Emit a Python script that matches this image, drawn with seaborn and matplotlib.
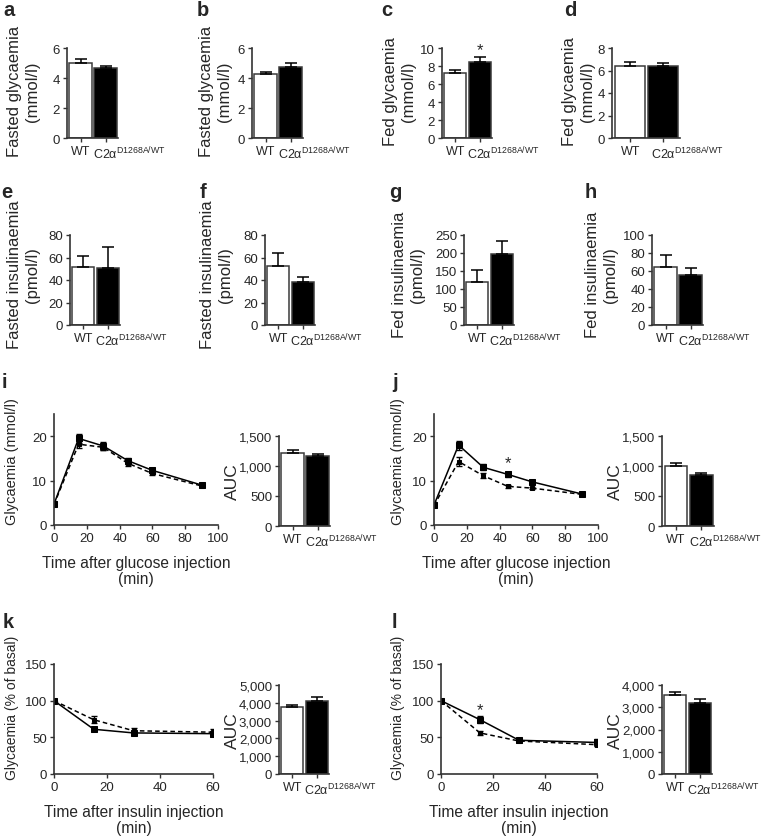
import numpy as np
import pandas as pd
import matplotlib
matplotlib.use("Agg")
import matplotlib.pyplot as plt
import matplotlib.transforms as mtransforms
from matplotlib.ticker import FuncFormatter
import seaborn as sns

sns.set_theme(style="ticks")
plt.rcParams["font.family"] = ["Liberation Sans", "DejaVu Sans"]
plt.rcParams["mathtext.fontset"] = "custom"
plt.rcParams["mathtext.rm"] = "Liberation Sans"
plt.rcParams["mathtext.it"] = "Liberation Sans:italic"
plt.rcParams["mathtext.bf"] = "Liberation Sans:bold"

# ---------------- data ----------------
genotypes = ["WT", "C2α$^{\\mathregular{D1268A/WT}}$"]

a_mean = [5.0, 4.65]; a_err = [0.25, 0.13]
b_mean = [4.3, 4.75]; b_err = [0.12, 0.22]
c_mean = [7.2, 8.5]; c_err = [0.35, 0.45]
d_mean = [6.4, 6.4]; d_err = [0.32, 0.25]
e_mean = [52, 50.5]; e_err = [9, 19]
f_mean = [52.5, 38]; f_err = [11.5, 5]
g_mean = [120, 197]; g_err = [33, 35]
h_mean = [65, 55.5]; h_err = [13, 8]

gtt_time = [0, 15, 30, 45, 60, 90]
i_wt = [4.7, 19.5, 17.8, 14.5, 12.3, 9.0]; i_wt_err = [0.4, 1.0, 0.8, 0.7, 0.5, 0.3]
i_mut = [4.6, 18.2, 17.5, 13.9, 11.6, 8.8]; i_mut_err = [0.3, 0.8, 0.6, 0.5, 0.4, 0.3]
i_auc = [1225, 1175]; i_auc_err = [45, 30]

j_wt = [4.5, 18.0, 13.0, 11.4, 9.7, 7.0]; j_wt_err = [0.4, 1.0, 0.7, 0.5, 0.3, 0.2]
j_mut = [4.4, 14.3, 11.1, 8.7, 8.3, 6.9]; j_mut_err = [0.4, 1.0, 0.6, 0.3, 0.3, 0.2]
j_auc = [1000, 850]; j_auc_err = [50, 35]

itt_time = [0, 15, 30, 60]
k_wt = [100, 61, 56, 55]; k_wt_err = [0, 2, 2, 2]
k_mut = [100, 74, 59, 57]; k_mut_err = [0, 5, 4, 5]
k_auc = [3780, 4080]; k_auc_err = [80, 240]

l_wt = [100, 74, 46, 43]; l_wt_err = [0, 5, 2, 5]
l_mut = [100, 56, 45, 40]; l_mut_err = [0, 3, 2, 2]
l_auc = [3550, 3200]; l_auc_err = [150, 180]

# ---------------- figure ----------------
W, H = 767, 837
fig = plt.figure(figsize=(W / 100, H / 100), dpi=100)

AX_COL = "#333333"
TICK_FS = 9.5
XT_FS = 9
BAR_LAB_FS = 12


def px_axes(x0, x1, y0, y1):
    return fig.add_axes([x0 / W, 1 - y1 / H, (x1 - x0) / W, (y1 - y0) / H])


def style(ax):
    sns.despine(ax=ax)
    for s in ("left", "bottom"):
        ax.spines[s].set_color(AX_COL)
        ax.spines[s].set_linewidth(1.2)
    ax.tick_params(axis="both", direction="out", length=3, width=1,
                   color=AX_COL, labelsize=TICK_FS, pad=2)


def ylabel_at(ax, text, right_px, yfrac, fs):
    ax.set_ylabel(text, fontsize=fs, linespacing=1.25)
    bb = ax.get_position()
    x_ax = (right_px / W - bb.x0) / bb.width
    ax.yaxis.set_label_coords(x_ax, yfrac)


def bar_panel(box, mean, err, ylim, yticks, ylabel, label_right, yfrac,
              thousands=False, ylab_fs=BAR_LAB_FS, star=None):
    ax = px_axes(*box)
    df = pd.DataFrame({"genotype": genotypes, "value": mean})
    sns.barplot(data=df, x="genotype", y="value", hue="genotype",
                palette=["white", "black"], edgecolor="#3a3a3a", linewidth=1.1,
                width=0.9, ax=ax, legend=False)
    ax.errorbar([0, 1], mean, yerr=[[0, 0], err], fmt="none", ecolor="black",
                elinewidth=1.1, capsize=4, capthick=1.1)
    ax.set_xlim(-0.55, 1.5)
    ax.set_ylim(*ylim)
    ax.set_yticks(yticks)
    if thousands:
        ax.yaxis.set_major_formatter(FuncFormatter(lambda v, p: f"{v:,.0f}"))
    ax.set_xlabel("")
    style(ax)
    ax.set_xticks([0, 1])
    ax.set_xticklabels(genotypes, fontsize=XT_FS)
    lab = ax.get_xticklabels()[1]
    lab.set_horizontalalignment("left")
    lab.set_transform(lab.get_transform() +
                      mtransforms.ScaledTranslation(-9 / 72, 0, fig.dpi_scale_trans))
    ylabel_at(ax, ylabel, label_right, yfrac, ylab_fs)
    if star is not None:
        ax.text(star[0], star[1], "*", ha="center", va="center", fontsize=12,
                clip_on=False)
    return ax


def line_panel(box, t, wt, wt_err, mut, mut_err, xlim, xticks, ylim, yticks,
               ylabel, label_right, yfrac, ylab_fs, xlabel, star=None):
    ax = px_axes(*box)
    sns.lineplot(x=t, y=wt, ax=ax, color="black", linewidth=1.1, marker="s",
                 markersize=4, markeredgecolor="black")
    sns.lineplot(x=t, y=mut, ax=ax, color="black", linewidth=1.1,
                 dashes=False, marker="s", markersize=3.5, markeredgecolor="black")
    ax.lines[-1].set_dashes([3, 2])
    ax.errorbar(t, wt, yerr=wt_err, fmt="none", ecolor="black", elinewidth=1,
                capsize=2, capthick=1)
    ax.errorbar(t, mut, yerr=mut_err, fmt="none", ecolor="black", elinewidth=1,
                capsize=2, capthick=1)
    ax.set_xlim(*xlim)
    ax.set_ylim(*ylim)
    ax.set_xticks(xticks)
    ax.set_yticks(yticks)
    style(ax)
    ax.set_xlabel(xlabel, fontsize=11.2, linespacing=1.1, labelpad=8)
    ylabel_at(ax, ylabel, label_right, yfrac, ylab_fs)
    if star is not None:
        ax.text(star[0], star[1], "*", ha="center", va="center", fontsize=12)
    return ax


# Row 1
R1 = 0.53
bar_panel((67, 118, 49, 139), a_mean, a_err, (0, 6), [0, 2, 4, 6],
          "Fasted glycaemia\n(mmol/l)", 40, R1)
bar_panel((252, 303, 49, 139), b_mean, b_err, (0, 6), [0, 2, 4, 6],
          "Fasted glycaemia\n(mmol/l)", 232, R1)
bar_panel((442, 492, 49, 139), c_mean, c_err, (0, 10), [0, 2, 4, 6, 8, 10],
          "Fed glycaemia\n(mmol/l)", 416, R1, star=(1, 9.8))
bar_panel((612, 680, 49, 139), d_mean, d_err, (0, 8), [0, 2, 4, 6, 8],
          "Fed glycaemia\n(mmol/l)", 595, R1)

# Row 2
R2 = 0.57
bar_panel((70, 120, 236, 326), e_mean, e_err, (0, 80), [0, 20, 40, 60, 80],
          "Fasted insulinaemia\n(pmol/l)", 40, R2)
bar_panel((265, 315, 236, 326), f_mean, f_err, (0, 80), [0, 20, 40, 60, 80],
          "Fasted insulinaemia\n(pmol/l)", 233, R2)
bar_panel((464, 514, 236, 326), g_mean, g_err, (0, 250), [0, 50, 100, 150, 200, 250],
          "Fed insulinaemia\n(pmol/l)", 425, R2)
bar_panel((652, 703, 236, 326), h_mean, h_err, (0, 100), [0, 20, 40, 60, 80, 100],
          "Fed insulinaemia\n(pmol/l)", 618, R2)

# Row 3
line_panel((54, 218, 415, 526), gtt_time, i_wt, i_wt_err, i_mut, i_mut_err,
           (0, 100), [0, 20, 40, 60, 80, 100], (0, 25), [0, 10, 20],
           "Glycaemia (mmol/l)", 19, 0.58, 10.5,
           "Time after glucose injection\n(min)")
bar_panel((279, 330, 437, 527), i_auc, i_auc_err, (0, 1500), [0, 500, 1000, 1500],
          "AUC", 240, 0.5, thousands=True, ylab_fs=12.5)
line_panel((434, 598, 415, 526), gtt_time, j_wt, j_wt_err, j_mut, j_mut_err,
           (0, 100), [0, 20, 40, 60, 80, 100], (0, 25), [0, 10, 20],
           "Glycaemia (mmol/l)", 405, 0.58, 10.5,
           "Time after glucose injection\n(min)", star=(45, 14.0))
bar_panel((662, 714, 437, 527), j_auc, j_auc_err, (0, 1500), [0, 500, 1000, 1500],
          "AUC", 623, 0.5, thousands=True, ylab_fs=12.5)

# Row 4
line_panel((54, 213, 665, 775), itt_time, k_wt, k_wt_err, k_mut, k_mut_err,
           (0, 60), [0, 20, 40, 60], (0, 150), [0, 50, 100, 150],
           "Glycaemia (% of basal)", 19, 0.61, 10,
           "Time after insulin injection\n(min)")
bar_panel((279, 329, 686, 775), k_auc, k_auc_err, (0, 5000),
          [0, 1000, 2000, 3000, 4000, 5000], "AUC", 240, 0.5, thousands=True,
          ylab_fs=12.5)
line_panel((441, 597, 665, 775), itt_time, l_wt, l_wt_err, l_mut, l_mut_err,
           (0, 60), [0, 20, 40, 60], (0, 150), [0, 50, 100, 150],
           "Glycaemia (% of basal)", 405, 0.61, 10,
           "Time after insulin injection\n(min)", star=(15, 88))
bar_panel((662, 712, 686, 775), l_auc, l_auc_err, (0, 4000),
          [0, 1000, 2000, 3000, 4000], "AUC", 623, 0.5, thousands=True,
          ylab_fs=12.5)

# Panel letters
letters = [("a", 3, 16), ("b", 197, 16), ("c", 381, 16), ("d", 564, 16),
           ("e", 1, 198), ("f", 200, 198), ("g", 389, 198), ("h", 585, 198),
           ("i", 2, 388), ("j", 392, 388), ("k", 3, 628), ("l", 392, 628)]
for txt, x, y in letters:
    fig.text(x / W, 1 - y / H, txt, fontsize=14.5, fontweight="bold",
             ha="left", va="baseline")

fig.savefig("out.png", dpi=100)
